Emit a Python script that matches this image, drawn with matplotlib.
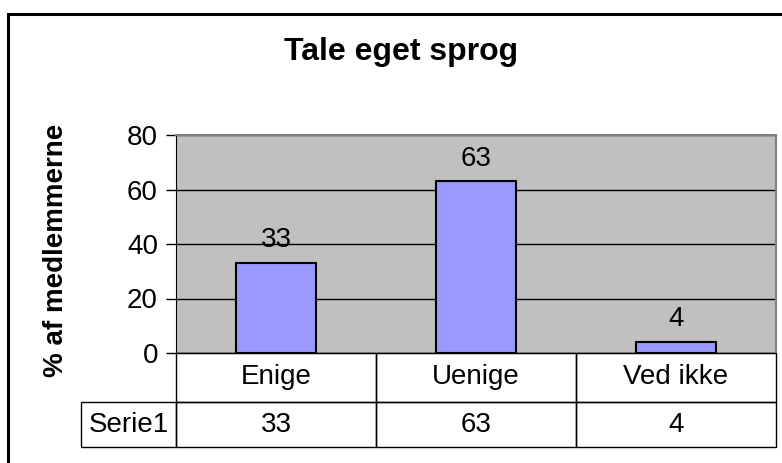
import matplotlib
matplotlib.use("Agg")
import matplotlib.pyplot as plt
from matplotlib.patches import Rectangle
from matplotlib.transforms import blended_transform_factory

categories = ["Enige", "Uenige", "Ved ikke"]
values = [33, 63, 4]
series_name = "Serie1"
yticks = [0, 20, 40, 60, 80]

plt.rcParams['font.family'] = ['Liberation Sans', 'DejaVu Sans']

W, H = 782, 463
fig = plt.figure(figsize=(W / 100, H / 100), dpi=100)

# plot area in pixels
px_l, px_r, px_t, px_b = 176, 776, 135, 353
ax = fig.add_axes([px_l / W, 1 - px_b / H, (px_r - px_l) / W, (px_b - px_t) / H])
ax.set_facecolor("#C0C0C0")
ax.set_axisbelow(True)

x = range(len(categories))
bars = ax.bar(x, values, width=0.4, color="#9999FF", edgecolor="black", linewidth=1.5, zorder=3)
ax.bar_label(bars, labels=[str(v) for v in values], padding=7, fontsize=20)

ax.set_xlim(-0.5, len(categories) - 0.5)
ax.set_ylim(0, 80)
ax.set_yticks(yticks)
ax.yaxis.grid(True, color="black", linewidth=1)
ax.tick_params(axis="y", direction="out", length=7, width=1, labelsize=20, pad=6)
ax.set_xticks([])
for side in ["top", "right"]:
    ax.spines[side].set_color("#808080")
    ax.spines[side].set_linewidth(1.5)
ax.spines["left"].set_color("black")
ax.spines["bottom"].set_color("black")

# data table under the plot, drawn cell by cell
ax_h = px_b - px_t
row1 = 49 / ax_h
row2 = 45 / ax_h
label_w = 95 / 200  # width of the "Serie1" column in category units
tr = blended_transform_factory(ax.transData, ax.transAxes)

def cell(x0, y0, w, h, text):
    ax.add_patch(Rectangle((x0, y0), w, h, transform=tr, fill=False,
                           edgecolor="black", linewidth=1, clip_on=False))
    ax.text(x0 + w / 2, y0 + h / 2, text, transform=tr, ha="center", va="center",
            fontsize=20, clip_on=False)

for i, (cat, v) in enumerate(zip(categories, values)):
    cell(i - 0.5, -row1, 1, row1, cat)
    cell(i - 0.5, -row1 - row2, 1, row2, str(v))
cell(-0.5 - label_w, -row1 - row2, label_w, row2, series_name)

fig.text(401 / W, 1 - 52 / H, "Tale eget sprog", ha="center", va="center",
         fontsize=23, fontweight="bold")
fig.text(56 / W, 1 - 250 / H, "% af medlemmerne", ha="center", va="center",
         rotation=90, fontsize=20, fontweight="bold")

# outer chart frame (runs past the right and bottom edges)
fig.patches.append(Rectangle((8 / W, -0.2), 1.2, 1.2 - 14 / H, transform=fig.transFigure,
                             fill=False, edgecolor="black", linewidth=2.2))

fig.savefig("out.png", dpi=100)
